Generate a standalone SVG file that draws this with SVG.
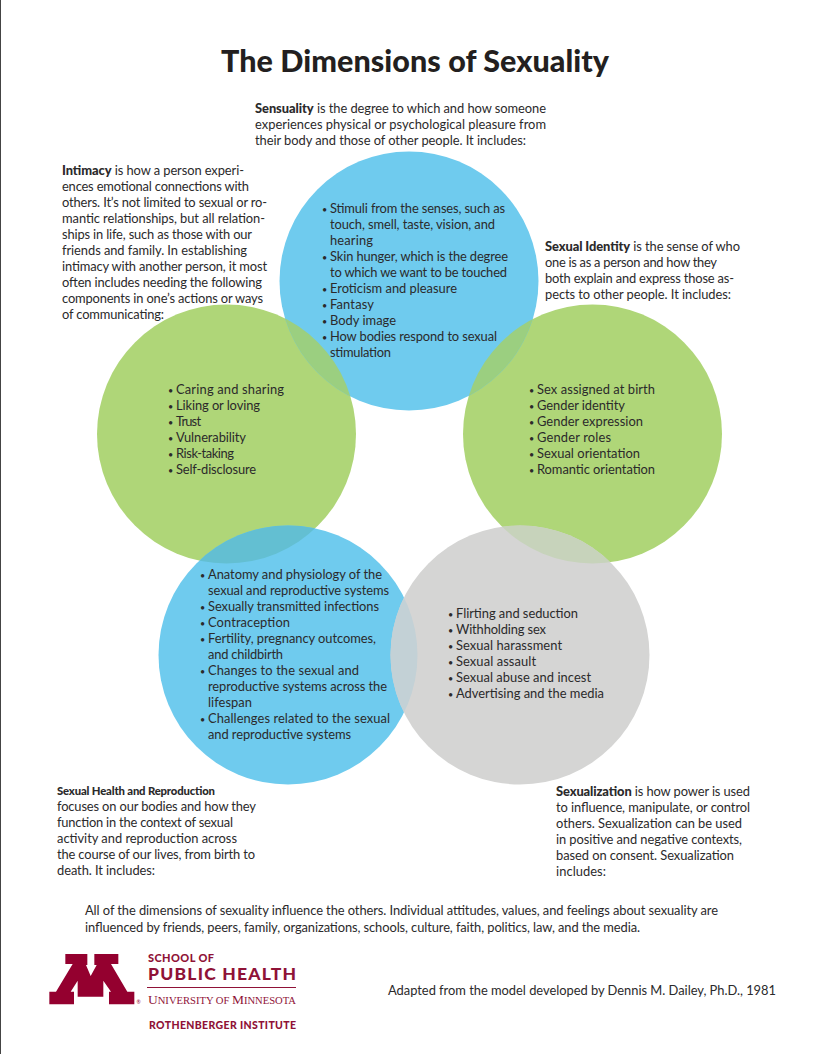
<svg xmlns="http://www.w3.org/2000/svg" width="818" height="1054" viewBox="0 0 818 1054">
<style>
text{font-family:"Lato","Liberation Sans",sans-serif;font-size:12.9px;fill:#2b2a2b}
g[id^="node"] text,.f{transform:translateY(.7px)}
.b{font-weight:900}
.d{font-size:9px}
.t{font-size:30.5px;font-weight:900;fill:#231f20}
.m{fill:#94002f}
.mt{fill:#8f1237;font-weight:900}
.s{font-family:"Liberation Serif",serif;fill:#8f1237;font-size:13.5px}
.s2{font-size:10.6px;font-family:"Liberation Serif",serif;fill:#8f1237}
.blue{fill:#6fcbee}
.green{fill:#afd678}
.gray{fill:#d5d5d4}
</style>
<defs>
<clipPath id="cTop"><circle cx="409" cy="281" r="129.500"/></clipPath>
<clipPath id="cHealth"><circle cx="288" cy="655" r="129.500"/></clipPath>
<clipPath id="cGray"><circle cx="520" cy="655" r="129.500"/></clipPath>
</defs>
<rect width="818" height="1054" fill="#fff"/>
<rect x="0" y="0" width="1" height="1054" fill="#444"/>
<text class="t" x="221" y="72" textLength="388">The Dimensions of Sexuality</text>
<g id="node-intimacy">
<circle class="green" cx="226.500" cy="434" r="129.500"/>
<text x="62" y="174" textLength="182"><tspan class="b">Intimacy</tspan> is how a person experi-</text>
<text x="62" y="190" textLength="187">ences emotional connections with</text>
<text x="62" y="206" textLength="205">others. It’s not limited to sexual or ro-</text>
<text x="62" y="222" textLength="203">mantic relationships, but all relation-</text>
<text x="62" y="238" textLength="190">ships in life, such as those with our</text>
<text x="62" y="254" textLength="185">friends and family. In establishing</text>
<text x="62" y="270" textLength="205">intimacy with another person, it most</text>
<text x="62" y="286" textLength="200">often includes needing the following</text>
<text x="62" y="302" textLength="201">components in one’s actions or ways</text>
<text x="62" y="318" textLength="102">of communicating:</text>
<text y="393"><tspan class="d" x="168">•</tspan><tspan x="176" textLength="108">Caring and sharing</tspan></text>
<text y="409"><tspan class="d" x="168">•</tspan><tspan x="176" textLength="84">Liking or loving</tspan></text>
<text y="425"><tspan class="d" x="168">•</tspan><tspan x="176" textLength="25">Trust</tspan></text>
<text y="441"><tspan class="d" x="168">•</tspan><tspan x="176" textLength="70">Vulnerability</tspan></text>
<text y="457"><tspan class="d" x="168">•</tspan><tspan x="176" textLength="58">Risk-taking</tspan></text>
<text y="473"><tspan class="d" x="168">•</tspan><tspan x="176" textLength="80">Self-disclosure</tspan></text>
</g>
<g id="node-identity">
<circle class="green" cx="592.500" cy="434" r="129.500"/>
<text x="545" y="250" textLength="195"><tspan class="b">Sexual Identity</tspan> is the sense of who</text>
<text x="545" y="266" textLength="172">one is as a person and how they</text>
<text x="545" y="282" textLength="189">both explain and express those as-</text>
<text x="545" y="298" textLength="186">pects to other people. It includes:</text>
<text y="393"><tspan class="d" x="529">•</tspan><tspan x="537" textLength="118">Sex assigned at birth</tspan></text>
<text y="409"><tspan class="d" x="529">•</tspan><tspan x="537" textLength="88">Gender identity</tspan></text>
<text y="425"><tspan class="d" x="529">•</tspan><tspan x="537" textLength="106">Gender expression</tspan></text>
<text y="441"><tspan class="d" x="529">•</tspan><tspan x="537" textLength="74">Gender roles</tspan></text>
<text y="457"><tspan class="d" x="529">•</tspan><tspan x="537" textLength="103">Sexual orientation</tspan></text>
<text y="473"><tspan class="d" x="529">•</tspan><tspan x="537" textLength="118">Romantic orientation</tspan></text>
</g>
<g id="node-sensuality">
<circle class="blue" cx="409" cy="281" r="129.500"/>
<circle fill="#9bcf80" cx="226.500" cy="434" r="129.500" clip-path="url(#cTop)"/>
<circle fill="#9bcf80" cx="592.500" cy="434" r="129.500" clip-path="url(#cTop)"/>
<text x="255" y="112" textLength="291"><tspan class="b">Sensuality</tspan> is the degree to which and how someone</text>
<text x="255" y="128" textLength="291">experiences physical or psychological pleasure from</text>
<text x="255" y="144" textLength="271">their body and those of other people. It includes:</text>
<text y="212"><tspan class="d" x="322">•</tspan><tspan x="330" textLength="175">Stimuli from the senses, such as</tspan></text>
<text x="330" y="228" textLength="165">touch, smell, taste, vision, and</text>
<text x="330" y="244" textLength="43">hearing</text>
<text y="260"><tspan class="d" x="322">•</tspan><tspan x="330" textLength="178">Skin hunger, which is the degree</tspan></text>
<text x="330" y="276" textLength="177">to which we want to be touched</text>
<text y="292"><tspan class="d" x="322">•</tspan><tspan x="330" textLength="127">Eroticism and pleasure</tspan></text>
<text y="308"><tspan class="d" x="322">•</tspan><tspan x="330" textLength="44">Fantasy</tspan></text>
<text y="324"><tspan class="d" x="322">•</tspan><tspan x="330" textLength="66">Body image</tspan></text>
<text y="340"><tspan class="d" x="322">•</tspan><tspan x="330" textLength="167">How bodies respond to sexual</tspan></text>
<text x="330" y="356" textLength="61">stimulation</text>
</g>
<g id="node-health">
<circle class="blue" cx="288" cy="655" r="129.500"/>
<circle fill="#63bfd2" cx="226.500" cy="434" r="129.500" clip-path="url(#cHealth)"/>
<text y="578"><tspan class="d" x="200">•</tspan><tspan x="208" textLength="174">Anatomy and physiology of the</tspan></text>
<text x="208" y="594" textLength="181">sexual and reproductive systems</text>
<text y="610"><tspan class="d" x="200">•</tspan><tspan x="208" textLength="171">Sexually transmitted infections</tspan></text>
<text y="626"><tspan class="d" x="200">•</tspan><tspan x="208" textLength="82">Contraception</tspan></text>
<text y="642"><tspan class="d" x="200">•</tspan><tspan x="208" textLength="168">Fertility, pregnancy outcomes,</tspan></text>
<text x="208" y="658" textLength="75">and childbirth</text>
<text y="674"><tspan class="d" x="200">•</tspan><tspan x="208" textLength="151">Changes to the sexual and</tspan></text>
<text x="208" y="690" textLength="179">reproductive systems across the</text>
<text x="208" y="706" textLength="44">lifespan</text>
<text y="722"><tspan class="d" x="200">•</tspan><tspan x="208" textLength="182">Challenges related to the sexual</tspan></text>
<text x="208" y="738" textLength="143">and reproductive systems</text>
<text x="57" y="794" class="b" textLength="158" style="font-size:11.300px">Sexual Health and Reproduction</text>
<text x="57" y="810" textLength="199">focuses on our bodies and how they</text>
<text x="57" y="826" textLength="176">function in the context of sexual</text>
<text x="57" y="842" textLength="180">activity and reproduction across</text>
<text x="57" y="858" textLength="198">the course of our lives, from birth to</text>
<text x="57" y="874" textLength="98">death. It includes:</text>
</g>
<g id="node-sexualization">
<circle class="gray" cx="520" cy="655" r="129.500"/>
<circle fill="#c3d1d6" cx="288" cy="655" r="129.500" clip-path="url(#cGray)"/>
<circle fill="#c7d3bb" cx="592.500" cy="434" r="129.500" clip-path="url(#cGray)"/>
<text y="617"><tspan class="d" x="448">•</tspan><tspan x="456" textLength="122">Flirting and seduction</tspan></text>
<text y="633"><tspan class="d" x="448">•</tspan><tspan x="456" textLength="90">Withholding sex</tspan></text>
<text y="649"><tspan class="d" x="448">•</tspan><tspan x="456" textLength="106">Sexual harassment</tspan></text>
<text y="665"><tspan class="d" x="448">•</tspan><tspan x="456" textLength="80">Sexual assault</tspan></text>
<text y="681"><tspan class="d" x="448">•</tspan><tspan x="456" textLength="135">Sexual abuse and incest</tspan></text>
<text y="697"><tspan class="d" x="448">•</tspan><tspan x="456" textLength="148">Advertising and the media</tspan></text>
<text x="556" y="795" textLength="194"><tspan class="b">Sexualization</tspan> is how power is used</text>
<text x="556" y="811" textLength="194">to influence, manipulate, or control</text>
<text x="556" y="827" textLength="186">others. Sexualization can be used</text>
<text x="556" y="843" textLength="186">in positive and negative contexts,</text>
<text x="556" y="859" textLength="178">based on consent. Sexualization</text>
<text x="556" y="875" textLength="50">includes:</text>
</g>
<g id="connectors"></g>
<text class="f" x="85" y="914" textLength="633">All of the dimensions of sexuality influence the others. Individual attitudes, values, and feelings about sexuality are</text>
<text class="f" x="85" y="931" textLength="555">influenced by friends, peers, family, organizations, schools, culture, faith, politics, law, and the media.</text>
<text class="f" x="388" y="994.500" textLength="388">Adapted from the model developed by Dennis M. Dailey, Ph.D., 1981</text>
<g id="logo">
<path class="m" transform="translate(0 940) scale(.33333)" d="M196 42H262V75H258L272 108L290 75H283V42H355V72H333L382 155H403V193H327V155H333L310 122V170H233V122L212 155H222V193H148V155H168L218 72H196Z"/>
<text x="136.500" y="1004" style="font-size:5px;fill:#94002f">®</text>
<text class="mt" x="148" y="962" textLength="66" style="font-size:11px">SCHOOL OF</text>
<text class="mt" x="148" y="979.500" textLength="148" style="font-size:17.500px">PUBLIC HEALTH</text>
<rect x="147" y="987" width="149" height="1" fill="#8f1237"/>
<text x="148" y="1004" textLength="148"><tspan class="s">U</tspan><tspan class="s2">NIVERSITY OF </tspan><tspan class="s">M</tspan><tspan class="s2">INNESOTA</tspan></text>
<text class="mt" x="149" y="1029" textLength="147" style="font-size:10.500px">ROTHENBERGER INSTITUTE</text>
</g>
</svg>
